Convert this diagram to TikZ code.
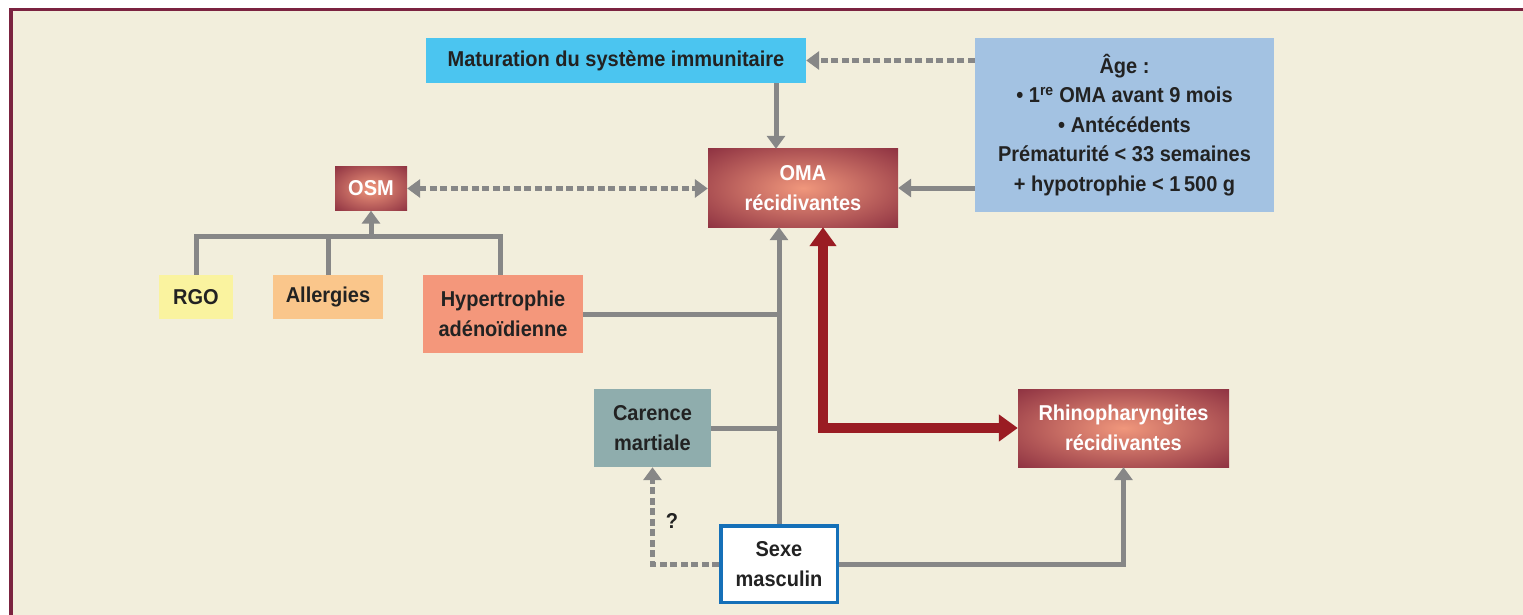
\documentclass[tikz,border=0pt]{standalone}
\usepackage{fontspec}
\setmainfont[BoldFeatures={FakeStretch=0.93}]{Liberation Sans}
\usetikzlibrary{arrows.meta,calc}
\definecolor{cream}{HTML}{F2EEDC}
\definecolor{framec}{HTML}{7B2340}
\definecolor{glowc}{HTML}{F0977C}
\definecolor{maroonc}{HTML}{882C3E}
\definecolor{matc}{HTML}{4BC5F0}
\definecolor{agec}{HTML}{A3C2E2}
\definecolor{rgoc}{HTML}{FAF39F}
\definecolor{allc}{HTML}{FAC68B}
\definecolor{hypc}{HTML}{F4977B}
\definecolor{carc}{HTML}{8FADAD}
\definecolor{sexc}{HTML}{1570B8}
\definecolor{linec}{HTML}{878787}
\definecolor{redc}{HTML}{9A1C23}
\definecolor{textc}{HTML}{222222}
\pgfdeclareradialshading{redglow}{\pgfpoint{0bp}{0bp}}{color(0bp)=(glowc); color(38bp)=(maroonc); color(50bp)=(maroonc)}
\tikzset{
  box/.style={rectangle, inner sep=0pt, align=center, text=textc,
    font=\fontsize{21.5}{29.5}\selectfont\bfseries},
  glowbox/.style={box, shading=redglow, text=white},
  gline/.style={draw=linec, line width=5pt},
  garrow/.style={gline, -{Triangle[width=18pt,length=13pt]}},
  gdash/.style={gline, dash pattern=on 7pt off 3.5pt},
  redarrow/.style={draw=redc, line width=10pt,
    {Triangle[width=26pt,length=19pt]}-{Triangle[width=26pt,length=19pt]}},
}
\begin{document}
\begin{tikzpicture}[x=1pt,y=-1pt]
\useasboundingbox (0,0) rectangle (1523,615);
\fill[white] (0,0) rectangle (1523,615);
\fill[cream] (10,9) rectangle (1523,615);
\fill[framec] (9,8) rectangle (12.5,615);
\fill[framec] (9,8) rectangle (1523,11.5);

\node[box, fill=matc, minimum width=380pt, minimum height=45pt] (mat) at (616,60.5) {Maturation du système immunitaire};
\node[box, fill=agec, minimum width=299pt, minimum height=174pt] (age) at (1124.5,125)
  {Âge :\\ • 1\textsuperscript{re} OMA avant 9 mois\\ • Antécédents\\ Prématurité < 33 semaines\\ + hypotrophie < 1\,500 g};
\node[glowbox, minimum width=190pt, minimum height=78pt] (oma) at (803,188) {OMA\\ récidivantes};
\node[glowbox, minimum width=72pt, minimum height=44pt] (osm) at (371,188.5) {OSM};
\node[box, fill=rgoc, minimum width=74pt, minimum height=44pt] (rgo) at (196,297) {RGO};
\node[box, fill=allc, minimum width=110pt, minimum height=44pt] (all) at (328,297) {Allergies};
\node[box, fill=hypc, minimum width=160pt, minimum height=78pt] (hyp) at (503,314) {Hypertrophie\\ adénoïdienne};
\node[box, fill=carc, minimum width=117pt, minimum height=78pt] (car) at (652.5,428) {Carence\\ martiale};
\node[box, fill=white, draw=sexc, line width=3.5pt, minimum width=116.5pt, minimum height=76.5pt] (sex) at (779,564) {Sexe\\ masculin};
\node[glowbox, minimum width=211pt, minimum height=78pt] (rhi) at (1123.5,428) {Rhinopharyngites\\ récidivantes};
\node[box] (q) at (672,521) {?};

\coordinate (tj) at (371,236);

% connectors
\draw[gdash, -{Triangle[width=18pt,length=13pt]}] (age.west |- mat.east) -- (mat.east);
\draw[garrow] ([xshift=160pt]mat.south) -- ([xshift=160pt]mat.south |- oma.north);
\draw[garrow] (age.west |- oma.east) -- (oma.east);
\draw[gdash, {Triangle[width=18pt,length=13pt]}-{Triangle[width=18pt,length=13pt]}] (osm.east) -- (osm.east -| oma.west);
\draw[gline] (rgo.north) |- ([xshift=-3pt]hyp.north |- tj) -- ([xshift=-3pt]hyp.north);
\draw[gline] (all.north) -- (all.north |- tj);
\draw[garrow] (tj) -- (osm.south);
\draw[garrow] (sex.north) -- (sex.north |- oma.south);
\draw[gline] (hyp.east) -- (hyp.east -| sex.north);
\draw[gline] (car.east) -- (car.east -| sex.north);
\draw[redarrow] ([xshift=20pt]oma.south) |- (rhi.west);
\draw[garrow] (sex.east) -| (rhi.south);
\draw[gdash, -{Triangle[width=18pt,length=13pt]}] (sex.west) -| (car.south);
\end{tikzpicture}
\end{document}
